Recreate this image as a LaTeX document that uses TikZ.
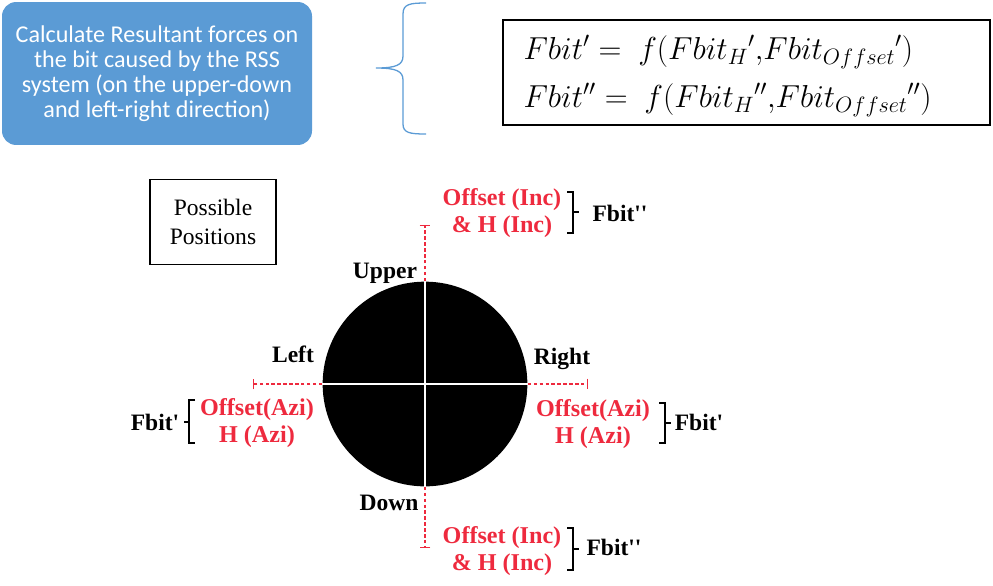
\RequirePackage{fix-cm}
\documentclass[tikz,border=0pt]{standalone}
\usepackage{fontspec}
\setmainfont{Liberation Serif}
\newfontfamily\calibri{Carlito}
\usetikzlibrary{arrows.meta}
\definecolor{rssblue}{HTML}{5B9BD5}
\definecolor{posred}{HTML}{EE2A3E}

\begin{document}
\begin{tikzpicture}[x=0.85pt, y=-0.85pt, line width=1pt,
  lbl/.style={font=\fontsize{20}{22}\selectfont\bfseries, inner sep=0pt},
  redlbl/.style={font=\fontsize{20.5}{23}\selectfont\bfseries, text=posred, align=center, inner sep=0pt},
  guide/.style={draw=posred, dash pattern=on 3pt off 2pt, -{Bar[width=9pt, line width=1.1pt]}},
  grp/.style={draw=black, line width=1.3pt}]
  \useasboundingbox (0,0) rectangle (993,585);
  % task box and brace
  \node[fill=rssblue, rounded corners=12pt, minimum width=263.5pt, minimum height=121.5pt,
        text=white, align=center, font=\calibri\fontsize{20.5}{21.2}\selectfont] (taskbox) at (157,73.5)
    {Calculate Resultant forces on\\the bit caused by the RSS\\system (on the upper-down\\and left-right direction)};
  \draw[rssblue, line width=1.1pt] (426,3) .. controls (410,3) and (403,4) .. (403,14) -- (403,56)
    .. controls (403,65) and (396,68) .. (376,68) .. controls (396,68) and (403,71) .. (403,80)
    -- (403,124) .. controls (403,133) and (410,134) .. (426,134);
  % resultant equations
  \node[draw, line width=1.3pt, minimum width=414pt, minimum height=89pt] (eqbox) at (746.5,72.5) {};
  \node[anchor=west, inner sep=0pt, align=left, font=\fontsize{27}{41}\selectfont] (eqtext) at (523,76)
    {$Fbit' = \ f(Fbit_H{}'{,}Fbit_{Offset}{}')$\\$Fbit'' = \ f(Fbit_H{}''{,}Fbit_{Offset}{}'')$};
  \node[draw, line width=1.3pt, minimum width=107pt, minimum height=72pt, align=center,
        font=\fontsize{20}{25}\selectfont] (posbox) at (213,222) {Possible\\Positions};
  % bit cross-section
  \node[circle, fill=black, minimum size=174pt, inner sep=0pt] (bitdisk) at (425,384) {};
  \draw[white, line width=1.8pt] (bitdisk.north) -- (bitdisk.south);
  \draw[white, line width=1.8pt] (bitdisk.west) -- (bitdisk.east);
  \coordinate (uptip) at (425,225);
  \coordinate (downtip) at (425,548);
  \coordinate (lefttip) at (253,384);
  \coordinate (righttip) at (588,384);
  \draw[guide] (bitdisk.north) -- (uptip);
  \draw[guide] (bitdisk.south) -- (downtip);
  \draw[guide] (bitdisk.west) -- (lefttip);
  \draw[guide] (bitdisk.east) -- (righttip);
  % direction labels
  \node[lbl] (upper) at (385,273) {Upper};
  \node[lbl] (left) at (293,354) {Left};
  \node[lbl] (right) at (562,359) {Right};
  \node[lbl] (down) at (389,503) {Down};
  % force components
  \node[redlbl] (upforce) at (502,213) {Offset (Inc)\\\& H (Inc)};
  \node[redlbl] (leftforce) at (257,423) {Offset(Azi)\\H (Azi)};
  \node[redlbl] (rightforce) at (593,424) {Offset(Azi)\\H (Azi)};
  \node[redlbl] (downforce) at (502,551) {Offset (Inc)\\\& H (Inc)};
  \draw[grp] (567,192) -- (573,192) -- (573,233) -- (567,233) (573,212) -- (579,212);
  \draw[grp] (195,400) -- (189,400) -- (189,443) -- (195,443) (189,422) -- (184,422);
  \draw[grp] (659,403) -- (665,403) -- (665,443) -- (659,443) (665,423) -- (671,423);
  \draw[grp] (567,528) -- (573,528) -- (573,570) -- (567,570) (573,549) -- (579,549);
  \node[lbl] (fbitup) at (620,213) {Fbit\textquotesingle\textquotesingle};
  \node[lbl] (fbitleft) at (155,422) {Fbit\textquotesingle};
  \node[lbl] (fbitright) at (699,422) {Fbit\textquotesingle};
  \node[lbl] (fbitdown) at (614,547) {Fbit\textquotesingle\textquotesingle};
\end{tikzpicture}
\end{document}
